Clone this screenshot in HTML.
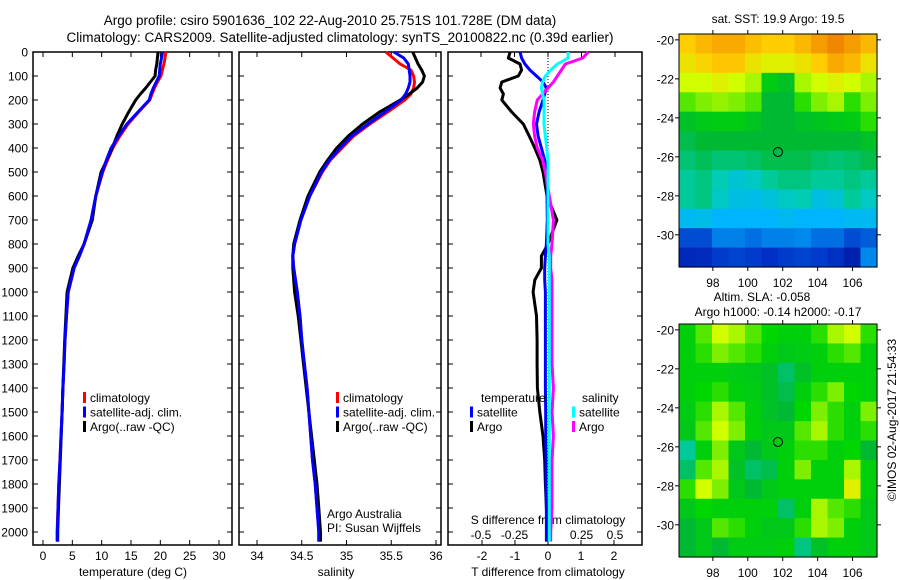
<!DOCTYPE html>
<html><head><meta charset="utf-8"><style>
body{margin:0;background:#fff;}
svg{display:block;font-family:"Liberation Sans",sans-serif;}
</style></head><body>
<svg id="fig" width="900" height="580" viewBox="0 0 900 580">
<rect width="900" height="580" fill="#fff"/>
<text x="330" y="25" font-size="13.5" text-anchor="middle">Argo profile: csiro 5901636_102 22-Aug-2010 25.751S 101.728E (DM data)</text>
<text x="340" y="42" font-size="13.5" text-anchor="middle">Climatology: CARS2009. Satellite-adjusted climatology: synTS_20100822.nc (0.39d earlier)</text>
<text x="778" y="23" font-size="12" text-anchor="middle">sat. SST: 19.9 Argo: 19.5</text>
<text x="762" y="301" font-size="12" text-anchor="middle">Altim. SLA: -0.058</text>
<text x="778" y="316" font-size="12" text-anchor="middle">Argo h1000: -0.14 h2000: -0.17</text>
<text transform="translate(896,420) rotate(-90)" font-size="12" text-anchor="middle">©IMOS 02-Aug-2017 21:54:33</text>
<g id="g"></g>
</svg>
<script>
// ---- data ----
const depths = [0,25,50,75,100,125,150,175,200,250,300,350,400,450,500,600,700,800,850,900,950,1000,1100,1200,1300,1400,1500,1600,1700,1800,1900,2000,2040];
const tempClim = [20.95,20.8,20.6,20.35,20.1,19.5,19.0,18.6,18.2,16.3,14.5,13.1,11.9,11.0,10.2,9.0,8.2,7.0,6.2,5.3,4.8,4.3,4.0,3.75,3.6,3.4,3.25,3.07,2.9,2.7,2.55,2.4,2.4];
const tempSat = [20.4,20.2,20.0,19.9,19.8,19.3,18.8,18.4,18.1,16.2,14.3,12.9,11.6,10.8,10.1,9.0,8.2,7.0,6.2,5.3,4.8,4.3,4.0,3.75,3.6,3.4,3.25,3.07,2.9,2.7,2.55,2.45,2.45];
const tempArgo = [19.6,19.5,19.4,19.2,19.1,18.3,17.5,16.6,15.8,14.6,13.5,12.6,11.8,10.9,9.9,9.0,8.4,7.0,6.0,5.1,4.6,4.1,3.9,3.7,3.55,3.4,3.25,3.1,2.95,2.8,2.65,2.5,2.5];
const salClim = [35.44,35.52,35.6,35.72,35.75,35.76,35.75,35.72,35.65,35.46,35.26,35.08,34.95,34.82,34.73,34.59,34.49,34.42,34.4,34.41,34.43,34.45,34.48,34.5,34.53,34.56,34.58,34.6,34.62,34.65,34.67,34.69,34.69];
const salSat = [35.53,35.64,35.69,35.7,35.71,35.71,35.69,35.66,35.61,35.43,35.24,35.06,34.93,34.81,34.72,34.59,34.49,34.42,34.4,34.41,34.43,34.45,34.48,34.5,34.53,34.56,34.58,34.6,34.62,34.65,34.67,34.69,34.69];
const salArgo = [35.74,35.77,35.8,35.84,35.87,35.85,35.79,35.7,35.6,35.37,35.18,35.02,34.89,34.79,34.7,34.57,34.48,34.41,34.4,34.4,34.41,34.42,34.46,34.49,34.52,34.55,34.58,34.61,34.64,34.67,34.69,34.71,34.71];
const tDiffSat = [-0.85,-0.8,-0.7,-0.55,-0.35,-0.15,-0.05,-0.1,-0.15,-0.27,-0.35,-0.3,-0.2,-0.1,-0.06,-0.03,-0.02,-0.05,-0.08,-0.1,-0.1,-0.08,-0.08,-0.08,-0.08,-0.08,-0.07,-0.07,-0.06,-0.06,-0.05,-0.05,-0.05];
const tDiffArgo = [-1.15,-1.2,-0.85,-0.8,-0.9,-1.4,-1.45,-1.35,-1.4,-1.1,-0.75,-0.57,-0.4,-0.25,-0.15,-0.03,0.27,0.0,-0.2,-0.2,-0.4,-0.45,-0.35,-0.33,-0.33,-0.32,-0.25,-0.15,-0.1,-0.08,-0.05,-0.03,-0.03];
const sDiffSat = [0.15,0.15,0.07,0.02,-0.02,-0.04,-0.05,-0.04,-0.03,-0.03,-0.03,-0.02,-0.01,0,0,0,0,0,0.01,0.01,0.01,0.01,0.01,0.01,0.01,0.01,0.01,0.01,0.01,0.01,0.01,0.01,0.01];
const sDiffArgo = [0.3,0.26,0.13,0.1,0.07,0.04,0,-0.04,-0.08,-0.1,-0.11,-0.1,-0.08,-0.04,-0.02,0.01,0.04,0.03,0.02,0.02,0.03,0.03,0.03,0.03,0.03,0.04,0.03,0.04,0.03,0.03,0.03,0.02,0.02];
const depthTicks = [0,100,200,300,400,500,600,700,800,900,1000,1100,1200,1300,1400,1500,1600,1700,1800,1900,2000];
const tempTicks = [0,5,10,15,20,25,30];
const salTicks = [34,34.5,35,35.5,36];
const tDiffTicks = [-2,-1,0,1,2];
const sDiffTicks = [-0.5,-0.25,0,0.25,0.5];
const lonTicks = [98,100,102,104,106];
const latTicks = [-20,-22,-24,-26,-28,-30];
const argoLon = 101.728, argoLat = -25.751;
const sstGrid = [
[0.75,0.78,0.8,0.8,0.77,0.75,0.75,0.78,0.82,0.85,0.82,0.78],
[0.72,0.74,0.76,0.76,0.72,0.7,0.7,0.72,0.75,0.8,0.78,0.72],
[0.68,0.68,0.7,0.68,0.66,0.55,0.52,0.66,0.68,0.7,0.68,0.66],
[0.62,0.64,0.65,0.64,0.62,0.5,0.5,0.6,0.64,0.66,0.6,0.64],
[0.52,0.54,0.55,0.55,0.53,0.5,0.5,0.52,0.53,0.54,0.55,0.6],
[0.48,0.5,0.5,0.5,0.5,0.5,0.5,0.5,0.5,0.5,0.5,0.52],
[0.45,0.47,0.45,0.45,0.46,0.48,0.48,0.48,0.46,0.45,0.46,0.48],
[0.42,0.44,0.4,0.36,0.38,0.42,0.44,0.44,0.42,0.42,0.44,0.42],
[0.42,0.44,0.38,0.34,0.33,0.35,0.38,0.4,0.34,0.36,0.42,0.38],
[0.32,0.33,0.3,0.3,0.3,0.3,0.32,0.3,0.3,0.3,0.32,0.32],
[0.18,0.18,0.24,0.24,0.22,0.24,0.24,0.25,0.22,0.22,0.18,0.2],
[0.12,0.13,0.16,0.17,0.16,0.14,0.16,0.17,0.16,0.14,0.1,0.25]];
const slaGrid = [
[0.56,0.62,0.68,0.66,0.62,0.58,0.56,0.56,0.6,0.66,0.68,0.6],
[0.56,0.6,0.64,0.62,0.6,0.56,0.54,0.55,0.56,0.6,0.62,0.56],
[0.56,0.56,0.56,0.55,0.54,0.52,0.46,0.52,0.56,0.56,0.56,0.56],
[0.56,0.58,0.6,0.56,0.55,0.52,0.48,0.56,0.6,0.64,0.58,0.56],
[0.55,0.6,0.66,0.62,0.56,0.52,0.5,0.58,0.64,0.6,0.56,0.64],
[0.54,0.62,0.68,0.64,0.56,0.54,0.54,0.62,0.66,0.6,0.56,0.6],
[0.42,0.56,0.64,0.54,0.5,0.54,0.56,0.6,0.6,0.56,0.58,0.5],
[0.46,0.62,0.66,0.52,0.46,0.48,0.56,0.64,0.56,0.56,0.66,0.56],
[0.6,0.68,0.64,0.54,0.5,0.54,0.56,0.56,0.56,0.56,0.7,0.56],
[0.54,0.58,0.56,0.56,0.56,0.56,0.46,0.56,0.66,0.62,0.6,0.54],
[0.5,0.54,0.62,0.6,0.56,0.54,0.54,0.6,0.66,0.64,0.56,0.54],
[0.5,0.54,0.5,0.55,0.55,0.55,0.56,0.44,0.52,0.56,0.56,0.54]];

// ---- helpers ----
const NS="http://www.w3.org/2000/svg";
const G=document.getElementById('g');
function mk(tag,attrs,parent){const e=document.createElementNS(NS,tag);for(const k in attrs)e.setAttribute(k,attrs[k]);(parent||G).appendChild(e);return e;}
const TOP=52,BOT=545,DMAX=(BOT-TOP)/0.24;
const yD=d=>TOP+d*0.24;
function lin(d0,d1,p0,p1){return v=>p0+(v-d0)*(p1-p0)/(d1-d0);}
const panels=[
 {x0:33,x1:232,name:'temperature-panel'},
 {x0:239,x1:441,name:'salinity-panel'},
 {x0:448,x1:642,name:'difference-panel'}];
const xT=lin(0,30,43,219), xS=lin(34,36,257,436), xTd=lin(0,1,548,581), xSd=lin(0,0.5,548,615);

panels.forEach((p,i)=>{
 const r=mk('rect',{x:p.x0,y:TOP,width:p.x1-p.x0,height:BOT-TOP,fill:'none',stroke:'#000','stroke-width':1.5});
 
 
 depthTicks.forEach(d=>{
  const y=yD(d);
  mk('line',{x1:p.x0,x2:p.x0+5,y1:y,y2:y,stroke:'#000'});
  mk('line',{x1:p.x1,x2:p.x1-5,y1:y,y2:y,stroke:'#000'});
  if(i===0){const t=mk('text',{x:28,y:y+4.5,'font-size':12,'text-anchor':'end'});t.textContent=d;
   
   }
 });
});
function xticks(vals,fx,p,labelY,top,bottom,fmt){
 vals.forEach(v=>{const x=fx(v);
  if(bottom)mk('line',{x1:x,x2:x,y1:BOT,y2:BOT-5,stroke:'#000'});
  if(top)mk('line',{x1:x,x2:x,y1:TOP,y2:TOP+5,stroke:'#000'});
  if(labelY){const t=mk('text',{x:x,y:labelY,'font-size':12,'text-anchor':'middle'});t.textContent=fmt?fmt(v):v;
   
   }
 });
}
xticks(tempTicks,xT,panels[0],560,true,true);
xticks(salTicks,xS,panels[1],560,true,true);
xticks(tDiffTicks,xTd,panels[2],560,false,true);
xticks(sDiffTicks,xSd,panels[2],539,true,false,v=>v===0?'0':String(v).replace('0.','0.'));
function label(x,y,txt,name,anchor){const t=mk('text',{x:x,y:y,'font-size':12,'text-anchor':anchor||'middle'});t.textContent=txt;
 
 }
label(133,576,'temperature (deg C)','temperature-axis-title');
label(336,576,'salinity','salinity-axis-title');
label(548,576,'T difference from climatology','t-diff-axis-title');
label(548,524,'S difference from climatology','s-diff-axis-title');
// zero dotted line
mk('line',{x1:548,x2:548,y1:TOP,y2:BOT,stroke:'#000','stroke-dasharray':'1,2'});

function series(vals,fx,color,name,w){
 const pts=vals.map((v,i)=>fx(v).toFixed(1)+','+yD(depths[i]).toFixed(1)).join(' ');
 const pl=mk('polyline',{points:pts,fill:'none',stroke:color,'stroke-width':w||3,'stroke-linejoin':'round'});
 
 
}
const clip=mk('clipPath',{id:'c3'});mk('rect',{x:448,y:TOP,width:194,height:BOT-TOP},clip);
series(tempClim,xT,'#ff0000','temp-climatology-line');
series(tempArgo,xT,'#000','temp-argo-line');
series(tempSat,xT,'#0000ff','temp-satellite-line');
series(salClim,xS,'#ff0000','sal-climatology-line');
series(salArgo,xS,'#000','sal-argo-line');
series(salSat,xS,'#0000ff','sal-satellite-line');
series(tDiffArgo,xTd,'#000','tdiff-argo-line');
series(tDiffSat,xTd,'#0000ff','tdiff-satellite-line');
series(sDiffArgo,xSd,'#ff00ff','sdiff-argo-line');
series(sDiffSat,xSd,'#00ffff','sdiff-satellite-line');

function legend(x,y,color,txt,name){
 mk('rect',{x:x,y:y-10,width:3,height:11,fill:color});
 const t=mk('text',{x:x+7,y:y,'font-size':12});t.textContent=txt;
 
 
}
[[83,'climatology','#ff0000'],[83,'satellite-adj. clim.','#0000ff'],[83,'Argo(..raw -QC)','#000']].forEach((a,i)=>legend(a[0],402+i*14.5,a[2],a[1],'legend-entry'));
[[336,'climatology','#ff0000'],[336,'satellite-adj. clim.','#0000ff'],[336,'Argo(..raw -QC)','#000']].forEach((a,i)=>legend(a[0],402+i*14.5,a[2],a[1],'legend-entry'));
label(481,402,'temperature','legend-temperature-heading','start');
label(582,402,'salinity','legend-salinity-heading','start');
legend(470,416.5,'#0000ff','satellite','legend-entry');
legend(470,431,'#000','Argo','legend-entry');
legend(572,416.5,'#00ffff','satellite','legend-entry');
legend(572,431,'#ff00ff','Argo','legend-entry');
label(327,518,'Argo Australia','argo-australia-note','start');
label(327,532,'PI: Susan Wijffels','pi-note','start');

// ---- maps ----
const stops=[[0,[0,0,120]],[0.15,[0,50,200]],[0.3,[0,180,255]],[0.4,[0,205,180]],[0.5,[0,185,50]],[0.58,[0,215,0]],[0.68,[210,255,0]],[0.75,[255,205,0]],[0.85,[240,135,0]],[1,[200,60,0]]];
function cmap(t){for(let i=1;i<stops.length;i++){if(t<=stops[i][0]){const a=stops[i-1],b=stops[i];const f=(t-a[0])/(b[0]-a[0]);return 'rgb('+a[1].map((c,k)=>Math.round(c+(b[1][k]-c)*f)).join(',')+')';}}return 'rgb(200,60,0)';}
const LON0=96.06,LON1=107.4,LAT0=-19.7,LAT1=-31.65;
function map(grid,top,name){
 const x0=679,x1=877,y0=top,y1=top+233;
 const fx=lin(LON0,LON1,x0,x1), fy=lin(LAT0,LAT1,y0,y1);
 const g=mk('g',{});
 
 
 const nr=grid.length,nc=grid[0].length;
 const dlon=(LON1-LON0)/nc,dlat=(LAT1-LAT0)/nr;
 grid.forEach((row,r)=>row.forEach((v,c)=>{
  const xa=fx(LON0+c*dlon),xb=fx(LON0+(c+1)*dlon),ya=fy(LAT0+r*dlat),yb=fy(LAT0+(r+1)*dlat);
  const cell=mk('rect',{x:xa,y:ya,width:xb-xa+0.6,height:yb-ya+0.6,fill:cmap(v)},g);
  
  
 }));
 mk('rect',{x:x0,y:y0,width:x1-x0,height:y1-y0,fill:'none',stroke:'#000','stroke-width':1},g);
 lonTicks.forEach(l=>{const x=fx(l);mk('line',{x1:x,x2:x,y1:y1,y2:y1+4,stroke:'#000'},g);mk('line',{x1:x,x2:x,y1:y0,y2:y0-4,stroke:'#000'},g);
  const t=mk('text',{x:x,y:y1+20,'font-size':12,'text-anchor':'middle'},g);t.textContent=l;
  
  });
 latTicks.forEach(l=>{const y=fy(l);mk('line',{x1:x0,x2:x0-4,y1:y,y2:y,stroke:'#000'},g);mk('line',{x1:x1,x2:x1+4,y1:y,y2:y,stroke:'#000'},g);
  const t=mk('text',{x:x0-5,y:y+4.5,'font-size':12,'text-anchor':'end'},g);t.textContent=l;
  
  });
 const m=mk('circle',{cx:fx(argoLon),cy:fy(argoLat),r:4.5,fill:'none',stroke:'#000','stroke-width':1},g);
 
 
}
map(sstGrid,34,'sst-map');
map(slaGrid,324,'sla-map');
</script>
</body></html>
